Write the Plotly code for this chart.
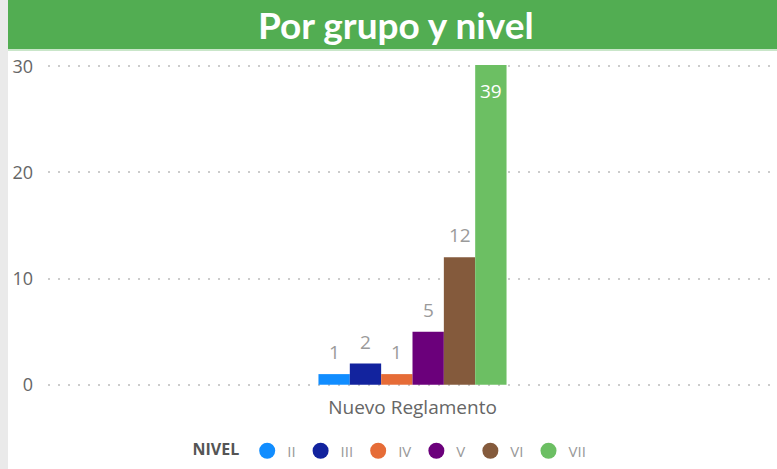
import plotly.graph_objects as go

categories = ["Nuevo Reglamento"]
levels = ["II", "III", "IV", "V", "VI", "VII"]
values = [1, 2, 1, 5, 12, 39]
colors = ["#118DFF", "#12239E", "#E66C37", "#6B007B", "#845A3C", "#6CBF63"]
yticks = [0, 10, 20, 30]

W, H = 777, 469
L, R, T, B = 48, 0, 65, 83
pw, ph = W - L - R, H - T - B
YMIN, YMAX = -0.12, 30.12
BARGAP = 0.742

def px_x(p):
    return (p - L) / pw

def px_y(p):
    return 1 + (T - p) / ph

fig = go.Figure()
for lvl, v, c in zip(levels, values, colors):
    fig.add_trace(go.Bar(
        x=categories, y=[v], name=lvl,
        marker=dict(color=c, line=dict(width=0)),
        showlegend=False, hoverinfo="x+y+name",
    ))
    fig.add_trace(go.Scatter(
        x=[None], y=[None], mode="markers", name=lvl,
        marker=dict(symbol="circle", size=16, color=c),
        showlegend=True,
    ))

# value labels positioned through the data axes
bw = (1 - BARGAP) / len(levels)
annotations = []
for i, (lvl, v) in enumerate(zip(levels, values)):
    xoff = (i - (len(levels) - 1) / 2) * bw
    if v > yticks[-1]:
        annotations.append(dict(
            x=xoff, y=yticks[-1], xref="x", yref="y", text=str(v), showarrow=False,
            yanchor="top", yshift=-10,
            font=dict(family="Open Sans", size=19, color="#FFFFFF"),
        ))
    else:
        annotations.append(dict(
            x=xoff, y=v, xref="x", yref="y", text=str(v), showarrow=False,
            yanchor="bottom", yshift=7,
            font=dict(family="Open Sans", size=19, color="#9a9a9a"),
        ))

annotations.append(dict(
    text="<b>Por grupo y nivel</b>", xref="paper", yref="paper",
    x=px_x(396), y=px_y(24), xanchor="center", yanchor="middle", showarrow=False,
    font=dict(family="Lato", size=37, color="white"),
))

fig.update_layout(
    width=W, height=H,
    margin=dict(l=L, r=R, t=T, b=B),
    paper_bgcolor="white", plot_bgcolor="white",
    barmode="group", bargap=BARGAP, bargroupgap=0,
    showlegend=True,
    legend=dict(
        orientation="h", x=px_x(391), xanchor="center", y=px_y(451), yanchor="middle",
        title=dict(text="<b>NIVEL</b>", font=dict(family="Open Sans", size=16, color="#555555")),
        font=dict(family="Open Sans", size=15, color="#999999"),
        itemwidth=30, tracegroupgap=0, itemsizing="trace",
    ),
    xaxis=dict(
        showgrid=False, showline=False, zeroline=False, ticks="",
        tickfont=dict(family="Open Sans", size=19, color="#666666"),
        ticklabelstandoff=8,
    ),
    yaxis=dict(
        range=[YMIN, YMAX], tickvals=yticks, showline=False, zeroline=False,
        showgrid=True, griddash="2px,8px", gridcolor="#cccccc", gridwidth=1.5,
        tickfont=dict(family="Open Sans", size=18, color="#666666"),
        ticks="", ticklabelstandoff=14,
    ),
    shapes=[
        dict(type="rect", xref="paper", yref="paper", x0=px_x(0), x1=px_x(8), y0=px_y(H), y1=px_y(0),
             fillcolor="#EAEAEA", line=dict(width=0), layer="below"),
        dict(type="rect", xref="paper", yref="paper", x0=px_x(8), x1=1, y0=px_y(49), y1=px_y(0),
             fillcolor="#52AD52", line=dict(width=0)),
        dict(type="line", xref="paper", yref="paper", x0=px_x(8), x1=1, y0=px_y(50), y1=px_y(50),
             line=dict(color="#C9E6C9", width=2)),
    ],
    annotations=annotations,
)

fig.write_html("out.html", config={"displayModeBar": False},
               post_script="document.body.style.margin='0';")
